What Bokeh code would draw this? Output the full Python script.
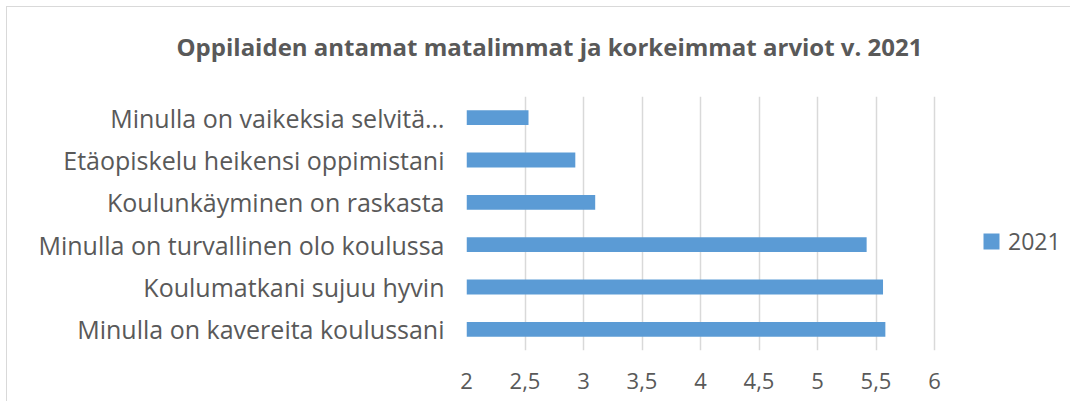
from bokeh.plotting import figure
from bokeh.models import FactorRange, Range1d, FixedTicker, Legend, LegendItem
from bokeh.embed import file_html
from bokeh.resources import INLINE

categories = [
    "Minulla on kavereita koulussani",
    "Koulumatkani sujuu hyvin",
    "Minulla on turvallinen olo koulussa",
    "Koulunkäyminen on raskasta",
    "Etäopiskelu heikensi oppimistani",
    "Minulla on vaikeksia selvitä…",
]
values_2021 = [5.58, 5.56, 5.42, 3.10, 2.93, 2.53]
series_name = "2021"
x_ticks = [2, 2.5, 3, 3.5, 4, 4.5, 5, 5.5, 6]
x_tick_labels = ["2", "2,5", "3", "3,5", "4", "4,5", "5", "5,5", "6"]
title_text = "Oppilaiden antamat matalimmat ja korkeimmat arviot v. 2021"

FONT = "Open Sans"
GRAY = "#595959"
BLUE = "#5B9BD5"

W, H = 1064, 395
LEFT, TOP, BOTTOM = 459, 89, 52
PX_PER_UNIT = 117.0
x_end = x_ticks[0] + (W - LEFT) / PX_PER_UNIT

p = figure(
    width=W, height=H,
    y_range=FactorRange(factors=categories),
    x_range=Range1d(x_ticks[0], x_end),
    output_backend="svg", toolbar_location=None,
    min_border_left=LEFT, min_border_right=0,
    min_border_top=TOP, min_border_bottom=BOTTOM,
    title=title_text,
)
p.styles = {"margin": "6px 0 0 6px",
            "border-left": "1px solid #d9d9d9", "border-top": "1px solid #d9d9d9"}
p.outline_line_color = None

p.title.text_font = FONT
p.title.text_font_style = "bold"
p.title.text_font_size = "24px"
p.title.text_color = GRAY
p.title.align = "left"
p.title.offset = -290
try:
    p.title.padding = dict(left=0, right=0, top=0, bottom=34)
    p.title.standoff = 0
except Exception:
    p.title.standoff = 55

r = p.hbar(y=categories, right=values_2021, left=x_ticks[0], height=0.35,
           fill_color=BLUE, line_color=None)

p.xaxis.ticker = FixedTicker(ticks=x_ticks)
p.xaxis.major_label_overrides = {t: l for t, l in zip(x_ticks, x_tick_labels)}
for ax in (p.xaxis, p.yaxis):
    ax.axis_line_color = None
    ax.major_tick_line_color = None
    ax.minor_tick_line_color = None
    ax.major_label_text_color = GRAY
    ax.major_label_text_font = FONT
p.xaxis.major_label_text_font_size = "22px"
p.xaxis.major_label_standoff = 16
p.yaxis.major_label_text_font_size = "25px"
p.yaxis.major_label_standoff = 16

p.ygrid.grid_line_color = None
p.xgrid.grid_line_color = "#d9d9d9"
p.xgrid.grid_line_width = 1.5

legend = Legend(items=[LegendItem(label=series_name, renderers=[r])],
                location=(515, 93), padding=0, margin=0,
                glyph_width=20, glyph_height=20, label_standoff=7,
                label_text_font=FONT, label_text_font_size="23px",
                label_text_color=GRAY, border_line_color=None,
                background_fill_alpha=0)
p.add_layout(legend)

open("out.html", "w").write(file_html(p, INLINE))
